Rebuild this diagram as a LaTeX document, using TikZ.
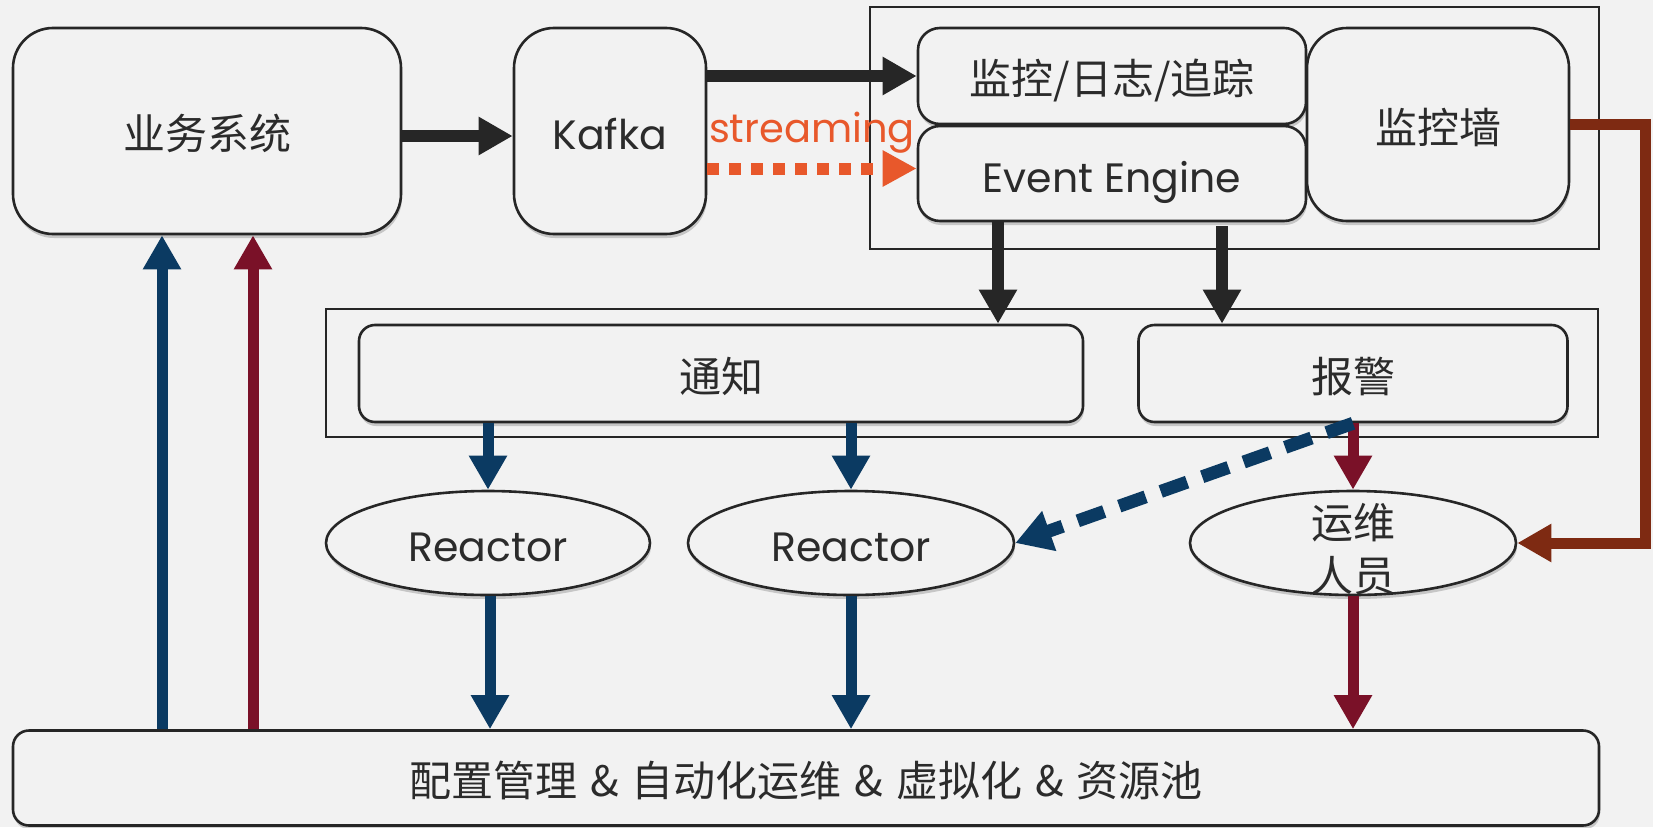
\documentclass[tikz,border=0pt]{standalone}
\usepackage{fontspec}
\setmainfont{Poppins}
\newfontfamily\cjk{Noto Sans CJK SC}
\usetikzlibrary{arrows.meta,shapes.geometric,shadows}

\definecolor{bg}{HTML}{F2F2F2}
\definecolor{ink}{HTML}{262626}
\definecolor{txt}{HTML}{2B2B2B}
\definecolor{navy}{HTML}{0B3A62}
\definecolor{wine}{HTML}{7A1128}
\definecolor{rust}{HTML}{7E2A12}
\definecolor{flame}{HTML}{E8582B}

\newcommand{\amp}{\hspace{13pt}\&\hspace{13pt}}

\tikzset{
  softshadow/.style={drop shadow={shadow xshift=1pt,shadow yshift=-4pt,opacity=0.18,fill=black}},
  box/.style={draw=ink,line width=2.6pt,fill=bg,softshadow,inner sep=0pt,
    text=txt,font=\fontsize{41}{48}\selectfont,align=center,
    text height=39pt,text depth=2pt},
  zh/.style={font=\cjk\fontsize{42}{53}\selectfont},
  bigbox/.style={box,rounded corners=40pt},
  midbox/.style={box,rounded corners=22pt},
  flatbox/.style={box,rounded corners=16pt},
  groupbox/.style={draw=ink,line width=2pt,inner sep=0pt},
  oval/.style={box,ellipse},
  tipA/.style={-{Triangle[length=34pt,width=36pt]}},
  blkarrow/.style={tipA,draw=ink,line width=12pt},
  navyarrow/.style={tipA,draw=navy,line width=11pt},
  winearrow/.style={tipA,draw=wine,line width=11pt},
  rustarrow/.style={-{Triangle[length=34pt,width=36pt]},draw=rust,line width=11pt},
  streamarrow/.style={-{Triangle[length=34pt,width=34pt]},draw=flame,line width=12pt,
    dash pattern=on 12pt off 10pt},
  dasharrow/.style={-{Triangle[length=36pt,width=40pt]},draw=navy,line width=13pt,
    dash pattern=on 28pt off 16pt},
}

\begin{document}
\begin{tikzpicture}[x=1pt,y=-1pt]
  \useasboundingbox (0,0) rectangle (1653,827);
  \fill[bg] (0,0) rectangle (1653,827);

  % grouping frames
  \node[groupbox,minimum width=729pt,minimum height=242pt] (grpA) at (1234.5,128) {};
  \node[groupbox,minimum width=1272pt,minimum height=128pt] (grpB) at (962,373) {};

  % top row
  \node[bigbox,zh,minimum width=388pt,minimum height=206pt] (biz) at (207,131) {业务系统};
  \node[bigbox,minimum width=192pt,minimum height=206pt] (kafka) at (610,131) {Kafka};
  \node[midbox,zh,minimum width=388pt,minimum height=96pt] (mon) at (1112,76) {监控/日志/追踪};
  \node[midbox,minimum width=388pt,minimum height=95pt] (evt) at (1112,173.5) {Event Engine};
  \node[bigbox,zh,minimum width=262pt,minimum height=193pt] (wall) at (1438,124.5) {监控墙};

  % middle row
  \node[flatbox,zh,minimum width=724pt,minimum height=97pt] (notify) at (721,373.5) {通知};
  \node[flatbox,zh,minimum width=429pt,minimum height=97pt] (alarm) at (1353,373.5) {报警};

  % handlers
  \node[oval,minimum width=324pt,minimum height=104pt] (r1) at (488,543) {Reactor};
  \node[oval,minimum width=326pt,minimum height=104pt] (r2) at (851,543) {Reactor};
  \node[oval,minimum width=326pt,minimum height=104pt,
    label={[zh,text=txt,align=center,inner sep=0pt,yshift=-6pt]center:运维\\人员}]
    (ops) at (1353,543) {};

  % base layer
  \node[flatbox,zh,minimum width=1586pt,minimum height=95pt] (base) at (806,778)
    {配置管理\amp 自动化运维\amp 虚拟化\amp 资源池};

  % data flow
  \draw[blkarrow] ([yshift=-5pt]biz.east) -- ([yshift=-5pt]kafka.west);
  \draw[blkarrow] (kafka.east |- mon.west) -- (mon.west);
  \draw[streamarrow] ([yshift=5pt]kafka.east |- evt.west) -- ([yshift=5pt]evt.west);
  \node[text=flame,font=\fontsize{40}{46}\selectfont,inner sep=0pt] (stream) at (812,133) {streaming};

  \draw[blkarrow] ([xshift=-114pt]evt.south) -- ([xshift=-114pt]evt.south |- notify.north);
  \draw[blkarrow] ([xshift=110pt,yshift=-4pt]evt.south) -- ([xshift=110pt]evt.south |- alarm.north);

  \draw[navyarrow] (notify.south -| r1.north) -- (r1.north);
  \draw[navyarrow] (notify.south -| r2.north) -- (r2.north);
  \draw[winearrow] (alarm.south) -- (ops.north);
  \draw[dasharrow] (alarm.south) -- (r2.east);

  \coordinate (turn) at (1645,330);
  \draw[rustarrow] (wall.east) -| (turn) |- (ops.east);

  \draw[navyarrow] ([xshift=2pt]r1.south) -- ([xshift=2pt]r1.south |- base.north);
  \draw[navyarrow] (r2.south) -- (r2.south |- base.north);
  \draw[winearrow] (ops.south) -- (ops.south |- base.north);

  \draw[navyarrow] ([xshift=-45pt]biz.south |- base.north) -- ([xshift=-45pt]biz.south);
  \draw[winearrow] ([xshift=46pt]biz.south |- base.north) -- ([xshift=46pt]biz.south);
\end{tikzpicture}
\end{document}
